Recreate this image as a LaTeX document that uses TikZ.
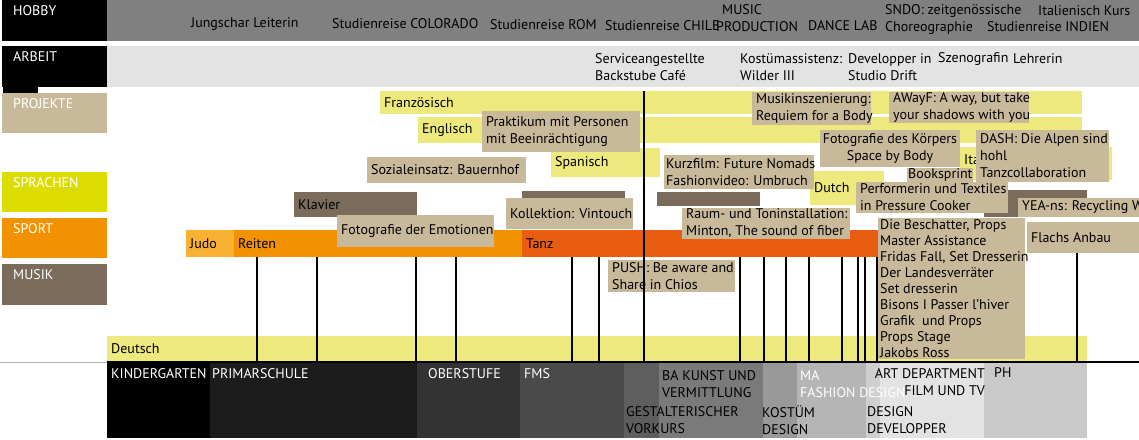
\documentclass[tikz,border=0pt]{standalone}
\usepackage{fontspec}
\setmainfont{PT Sans}
\usepackage{tikz}
\usetikzlibrary{positioning}

\definecolor{hobbygrau}{RGB}{128,128,128}
\definecolor{arbeitgrau}{RGB}{227,227,227}
\definecolor{sprachgelb}{RGB}{237,233,124}
\definecolor{sprachlegende}{RGB}{221,220,0}
\definecolor{projtan}{RGB}{201,185,155}
\definecolor{musikbraun}{RGB}{123,107,91}
\definecolor{sportorange}{RGB}{243,146,0}
\definecolor{judoorange}{RGB}{248,177,51}
\definecolor{tanzorange}{RGB}{232,93,16}

\begin{document}
\begin{tikzpicture}[x=1pt, y=-1pt, font=\fontsize{14}{17}\selectfont,
    box/.style={rectangle, inner sep=0pt, outer sep=0pt, anchor=north west},
    lgd/.style={box, minimum width=105pt, minimum height=41pt},
    lgdtext/.style={anchor=north west, inner sep=0pt, text=white, xshift=11pt, yshift=-5pt},
    inside/.style={anchor=west, align=left, inner sep=0pt, xshift=4pt},
    centered/.style={anchor=center, align=center, inner sep=0pt},
    lang/.style={box, fill=sprachgelb},
    proj/.style={box, fill=projtan},
    musi/.style={box, fill=musikbraun},
    txt/.style={anchor=west, align=left, inner sep=0pt},
    school/.style={box, minimum height=76pt},
    timeline/.style={line width=1.3pt}]

  \useasboundingbox (0,0) rectangle (1139,439);

  % Legende links
  \node[lgd, fill=black, label={[lgdtext]north west:HOBBY}] (hobby) at (2,0) {};
  \node[lgd, fill=black, below=5pt of hobby, label={[lgdtext]north west:ARBEIT}] (arbeit) {};
  \fill (arbeit.south west) ++(1,0) rectangle ++(35,6);
  \node[lgd, fill=projtan, minimum height=40pt, below=6pt of arbeit, label={[lgdtext]north west:PROJEKTE}] (projekte) {};
  \node[lgd, fill=sprachlegende, minimum height=40pt, below=39pt of projekte, label={[lgdtext]north west:SPRACHEN}] (sprachen) {};
  \node[lgd, fill=sportorange, minimum height=40pt, below=6pt of sprachen, label={[lgdtext]north west:SPORT}] (sport) {};
  \node[lgd, fill=musikbraun, below=6pt of sport, label={[lgdtext]north west:MUSIK}] (musik) {};

  % Hobby und Arbeit
  \node[box, fill=hobbygrau, minimum width=1032pt, minimum height=41pt] (hobbyband) at (107,0) {};
  \node[box, fill=arbeitgrau, minimum width=1032pt, minimum height=41pt] (arbeitband) at (107,46) {};

  \node[txt] (jungschar) at (191,24) {Jungschar Leiterin};
  \node[txt] (colorado) at (332,24) {Studienreise COLORADO};
  \node[txt] (rom) at (490,25) {Studienreise ROM};
  \node[txt] (chile) at (605,26) {Studienreise CHILE};
  \node[txt] (music) at (716,18) {\hspace*{6pt}MUSIC\\PRODUCTION};
  \node[txt] (dancelab) at (808,26) {DANCE LAB};
  \node[txt] (sndo) at (885,19.5) {SNDO: zeitgenössische\\Choreographie};
  \node[txt] (italkurs) at (1038,11) {Italienisch Kurs};
  \node[txt] (indien) at (987,27) {Studienreise INDIEN};

  \node[txt] (service) at (595,67.5) {Serviceangestellte\\Backstube Café};
  \node[txt] (kostuemass) at (740,67.5) {Kostümassistenz:\\Wilder III};
  \node[txt] (developper) at (848,67.5) {Developper in\\Studio Drift};
  \node[txt] (szenografin) at (938,59) {Szenografin};
  \node[txt] (lehrerin) at (1013,59) {Lehrerin};

  % Sprachen
  \node[lang, minimum width=702pt, minimum height=23pt, label={[inside]west:Französisch}] (franz) at (380,91) {};
  \node[lang, minimum width=664pt, minimum height=26pt, label={[inside]west:Englisch}] (englisch) at (418,117) {};
  \node[lang, minimum width=109pt, minimum height=29pt, label={[inside]west:Spanisch}] (spanisch) at (551,148) {};
  \node[lang, minimum width=152pt, minimum height=33pt, label={[inside, yshift=4pt]west:Ita}] (ital) at (960,147) {};
  \node[lang, minimum width=74pt, minimum height=34pt, label={[inside]west:Dutch}] (dutch) at (810,171) {};
  \node[lang, minimum width=980pt, minimum height=26pt, label={[inside]west:Deutsch}] (deutsch) at (107,336) {};

  % Musik
  \node[musi, minimum width=123pt, minimum height=25pt, label={[inside]west:Klavier}] (klavier) at (294,192) {};
  \node[musi, minimum width=103pt, minimum height=7pt] (kollbalken) at (522,191) {};
  \node[musi, minimum width=103pt, minimum height=14pt] (kurzbalken) at (657,192) {};
  \node[musi, minimum width=103pt, minimum height=27pt] (yeabalken) at (984,190) {};

  % Sport
  \node[box, fill=judoorange, minimum width=48pt, minimum height=27pt, label={[inside]west:Judo}] (judo) at (186,230) {};
  \node[box, fill=sportorange, minimum width=288pt, minimum height=27pt, right=0pt of judo, label={[inside]west:Reiten}] (reiten) {};
  \node[box, fill=tanzorange, minimum width=356pt, minimum height=27pt, right=0pt of reiten, label={[inside]west:Tanz}] (tanz) {};

  % Projekte
  \node[proj, minimum width=159pt, minimum height=26pt, label={[inside]west:{Sozialeinsatz: Bauernhof}}] (sozial) at (367,157) {};
  \node[proj, minimum width=158pt, minimum height=41pt, label={[inside]west:{Praktikum mit Personen\\mit Beeinrächtigung}}] (praktikum) at (482,111) {};
  \node[proj, minimum width=157pt, minimum height=32pt, label={[inside]west:{Fotografie der Emotionen}}] (emotionen) at (337,215) {};
  \node[proj, minimum width=127pt, minimum height=31pt, label={[inside]west:{Kollektion: Vintouch}}] (kollektion) at (506,198) {};
  \node[proj, minimum width=150pt, minimum height=34pt, label={[inside, xshift=-2pt]west:{Kurzfilm: Future Nomads\\Fashionvideo: Umbruch}}] (kurzfilm) at (664,155) {};
  \node[proj, minimum width=168pt, minimum height=31pt, label={[inside]west:{Raum- und Toninstallation:\\Minton, The sound of fiber}}] (raum) at (682,208) {};
  \node[proj, minimum width=127pt, minimum height=32pt, label={[inside]west:{PUSH: Be aware and\\Share in Chios}}] (push) at (608,260) {};
  \node[proj, minimum width=119pt, minimum height=33pt, label={[inside]west:{Musikinszenierung:\\Requiem for a Body}}] (requiem) at (752,92) {};
  \node[proj, minimum width=140pt, minimum height=31pt, label={[inside]west:{AWayF: A way, but take\\your shadows with you}}] (awayf) at (889,92) {};
  \node[proj, minimum width=140pt, minimum height=37pt, label={[centered]center:{Fotografie des Körpers\\Space by Body}}] (koerper) at (820,130) {};
  \node[proj, minimum width=66pt, minimum height=14pt, label={[inside, xshift=-3pt]west:Booksprint}] (booksprint) at (907,168) {};
  \node[proj, minimum width=133pt, minimum height=52pt, label={[inside]west:{DASH: Die Alpen sind\\hohl\\Tanzcollaboration}}] (dash) at (976,130) {};
  \node[proj, minimum width=152pt, minimum height=31pt, label={[inside]west:{Performerin und Textiles\\in Pressure Cooker}}] (performer) at (856,182) {};
  \node[proj, minimum width=121pt, minimum height=19pt, label={[inside]west:{YEA-ns: Recycling W}}] (yea) at (1018,198) {};
  \node[proj, minimum width=112pt, minimum height=31pt, label={[inside]west:{Flachs Anbau}}] (flachs) at (1027,222) {};
  \node[proj, minimum width=147pt, minimum height=141pt, label={[inside, xshift=-2pt, font=\fontsize{14}{16}\selectfont]west:{Die Beschatter, Props\\Master Assistance\\Fridas Fall, Set Dresserin\\Der Landesverräter\\Set dresserin\\Bisons I Passer l'hiver\\Grafik~ und Props\\Props Stage\\Jakobs Ross}}] (beschatter) at (878,218) {};

  % Ausbildung
  \node[school, fill=black, minimum width=103pt] (kindergarten) at (107,362) {};
  \node[school, fill=black!89, minimum width=207pt, right=0pt of kindergarten] (primar) {};
  \node[school, fill=black!80, minimum width=103pt, right=0pt of primar] (oberstufe) {};
  \node[school, fill=black!71, minimum width=104pt, right=0pt of oberstufe] (fms) {};
  \node[school, fill=black!63, minimum width=35pt, right=0pt of fms] (vorkurs) {};
  \node[school, fill=black!52, minimum width=104pt, right=0pt of vorkurs] (bakunst) {};
  \node[school, fill=black!40, minimum width=34pt, right=0pt of bakunst] (kostuem) {};
  \node[school, fill=black!29, minimum width=69pt, right=0pt of kostuem] (mafashion) {};
  \node[school, fill=black!19, minimum width=14pt, right=0pt of mafashion] (designdev) {};
  \node[school, fill=black!11, minimum width=104pt, right=0pt of designdev] (artdep) {};
  \node[school, fill=black!21, minimum width=103pt, right=0pt of artdep] (ph) {};

  \node[txt, text=white] (kgtext) at (111,374) {KINDERGARTEN};
  \node[txt, text=white] (primtext) at (212,374) {PRIMARSCHULE};
  \node[txt, text=white] (obertext) at (428,374) {OBERSTUFE};
  \node[txt, text=white] (fmstext) at (524,374) {FMS};
  \node[txt] (vorkurstext) at (626,420.5) {GESTALTERISCHER\\VORKURS};
  \node[txt] (batext) at (662,384.5) {BA KUNST UND\\VERMITTLUNG};
  \node[txt] (kostuemtext) at (762,420.5) {KOSTÜM\\DESIGN};
  \node[txt, text=white] (matext) at (800,384) {MA\\FASHION DESIGN};
  \node[txt] (devtext) at (867,420.5) {DESIGN\\DEVELOPPER};
  \node[txt, anchor=east, align=right] (arttext) at (985,382) {ART DEPARTMENT\\FILM UND TV};
  \node[txt] (phtext) at (994,373) {PH};

  % Zeitachse
  \coordinate (linksaussen) at (0,362);
  \coordinate (rechtsaussen) at (1139,362);
  \draw[black!30, line width=0.6pt] (linksaussen) -- (deutsch.south west);
  \draw[line width=2pt] (deutsch.south west) -- (rechtsaussen);
  \foreach \x in {257,317,416,456,572,599,740,764,786,809,842,858,865,877}
    \draw[timeline] (\x,0 |- reiten.south) -- (\x,0 |- deutsch.south);
  \draw[timeline] (644,0 |- franz.north) -- (644,0 |- deutsch.south);
  \draw[timeline] (flachs.south -| 1077,0) -- (1077,0 |- deutsch.south);
\end{tikzpicture}
\end{document}
